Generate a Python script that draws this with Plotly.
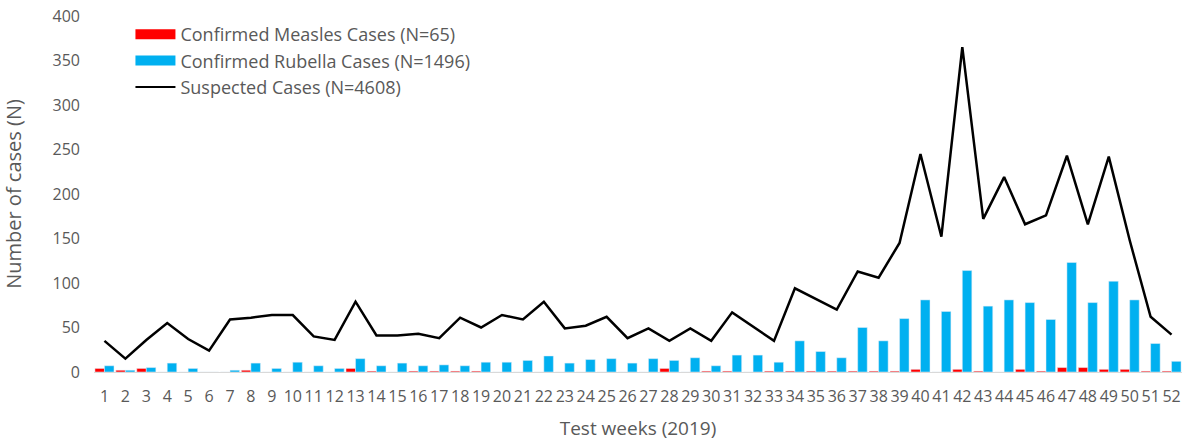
import plotly.graph_objects as go

weeks = list(range(1, 53))
measles = [4, 2, 4, 0, 0, 0, 0, 2, 0, 0, 0, 0, 4, 1, 0, 1, 1, 1, 1, 0,
           0, 0, 0, 0, 0, 0, 0, 4, 0, 1, 1, 0, 1, 1, 1, 1, 1, 1, 1, 3,
           0, 3, 1, 0, 3, 1, 5, 5, 3, 3, 1, 1]
rubella = [7, 2, 5, 10, 4, 0, 2, 10, 4, 11, 7, 4, 15, 7, 10, 7, 8, 7, 11, 11,
           13, 18, 10, 14, 15, 10, 15, 13, 16, 7, 19, 19, 11, 35, 23, 16, 50, 35, 60, 81,
           68, 114, 74, 81, 78, 59, 123, 78, 102, 81, 32, 12]
suspected = [35, 15, 36, 55, 37, 24, 59, 61, 64, 64, 40, 36, 79, 41, 41, 43, 38, 61, 50, 64,
             59, 79, 49, 52, 62, 38, 49, 35, 49, 35, 67, 51, 35, 94, 82, 70, 113, 106, 145, 245,
             152, 365, 172, 219, 166, 176, 243, 166, 242, 148, 62, 42]

names = ["Confirmed Measles Cases (N=65)", "Confirmed Rubella Cases (N=1496)", "Suspected Cases (N=4608)"]
RED = "#FF0000"
BLUE = "#00B0F0"
TXT = "#595959"
FONT = "Open Sans"

fig = go.Figure()
fig.add_trace(go.Bar(x=weeks, y=measles, marker_color=RED, showlegend=False, name=names[0]))
fig.add_trace(go.Bar(x=weeks, y=rubella, marker_color=BLUE, showlegend=False, name=names[1]))
fig.add_trace(go.Scatter(x=weeks, y=suspected, mode="lines", line=dict(color="black", width=2.5),
                         showlegend=False, name=names[2]))
# legend entries (wide swatches like the original)
fig.add_trace(go.Scatter(x=[None], y=[None], mode="lines", line=dict(color=RED, width=12), name=names[0]))
fig.add_trace(go.Scatter(x=[None], y=[None], mode="lines", line=dict(color=BLUE, width=12), name=names[1]))
fig.add_trace(go.Scatter(x=[None], y=[None], mode="lines", line=dict(color="black", width=2), name=names[2]))

fig.update_layout(
    width=1184, height=441,
    margin=dict(l=94, r=2, t=16, b=69),
    plot_bgcolor="white", paper_bgcolor="white",
    barmode="group", bargap=0.09, bargroupgap=0,
    font=dict(family=FONT, size=16, color=TXT),
    legend=dict(x=0.0335, y=1.0, xanchor="left", yanchor="top",
                font=dict(size=18, color=TXT), itemwidth=40, tracegroupgap=0,
                bgcolor="rgba(0,0,0,0)"),
    xaxis=dict(range=[0.5, 52.5], tickmode="array", tickvals=weeks, ticktext=[str(w) for w in weeks],
               showgrid=False, showline=True, linecolor="#D9D9D9", linewidth=1, ticks="",
               zeroline=False, tickangle=0, automargin=False, ticklabelstandoff=10,
               ticklabeloverflow="allow",
               title=dict(text="Test weeks (2019)", font=dict(size=19, color=TXT), standoff=18)),
    yaxis=dict(range=[0, 400], tickvals=list(range(0, 401, 50)), showgrid=False, showline=False,
               zeroline=False, ticks="", ticklabelstandoff=13, automargin=False,
               ticklabeloverflow="allow",
               title=dict(text="Number of cases (N)", font=dict(size=20, color=TXT), standoff=27)),
)

fig.write_html("out.html", config={"displayModeBar": False},
               post_script="document.body.style.margin='0px';document.body.style.overflow='hidden';")
